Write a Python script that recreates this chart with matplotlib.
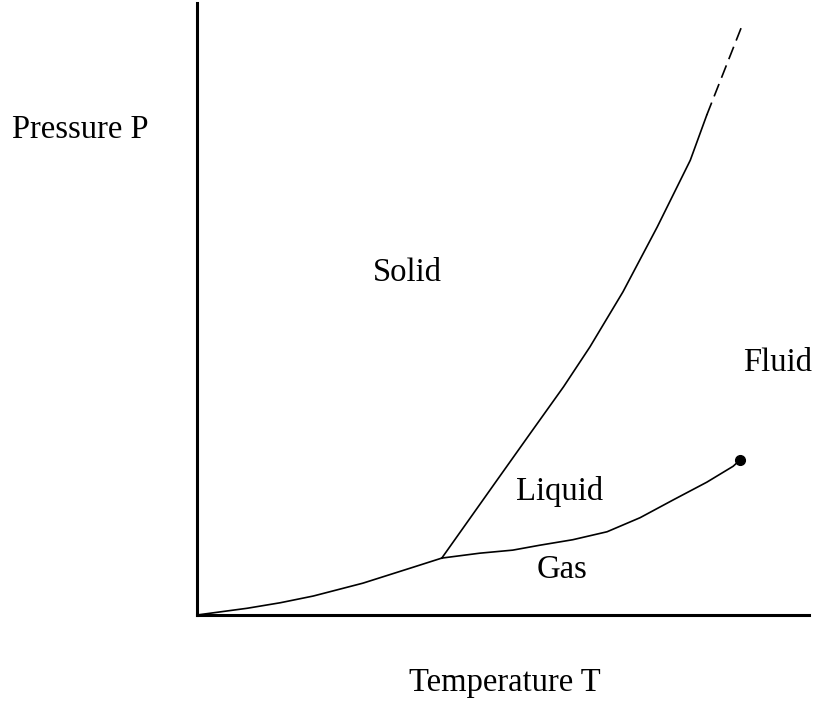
import numpy as np
import matplotlib
matplotlib.use('Agg')
import matplotlib.pyplot as plt

# --- data (arbitrary T / P units, axes run 0..10) ---
sub_T = [0.0, 0.82, 1.36, 1.90, 2.71, 3.53, 4.00]
sub_P = [0.0, 0.11, 0.20, 0.31, 0.52, 0.78, 0.93]

vap_T = [4.00, 4.62, 5.16, 5.60, 6.14, 6.70, 7.24, 7.78, 8.33, 8.76, 8.87]
vap_P = [0.93, 1.01, 1.06, 1.14, 1.23, 1.36, 1.59, 1.88, 2.17, 2.43, 2.53]

melt_T = [4.00, 4.90, 5.44, 5.99, 6.42, 6.96, 7.52, 8.06, 8.33]
melt_P = [0.93, 2.20, 2.96, 3.73, 4.38, 5.28, 6.34, 7.43, 8.17]

melt_ext_T = [8.33, 8.89]
melt_ext_P = [8.17, 9.59]

crit_T, crit_P = 8.87, 2.53

regions = ['Solid', 'Liquid', 'Gas', 'Fluid']
region_T = [3.43, 5.93, 5.96, 9.49]
region_P = [5.60, 2.01, 0.74, 4.12]

plt.rcParams['font.family'] = ['Liberation Serif', 'DejaVu Serif']

fig = plt.figure(figsize=(8.16, 7.02), dpi=100)
ax = fig.add_axes([197 / 816, 87 / 702, 612 / 816, 612 / 702])

line_kw = dict(color='black', lw=1.2, solid_joinstyle='round')
ax.plot(sub_T, sub_P, **line_kw)
ax.plot(vap_T, vap_P, **line_kw)
ax.plot(melt_T, melt_P, **line_kw)
# dashed continuation of the melting line
ax.plot(melt_ext_T, melt_ext_P, color='black', lw=1.2, dashes=(8, 4))
ax.plot([crit_T], [crit_P], 'o', color='black', markersize=7, clip_on=False)

for name, t, p in zip(regions, region_T, region_P):
    ax.text(t, p, name, fontsize=23.5, ha='center', va='center')

ax.set_xlim(0, 10)
ax.set_ylim(0, 10)
ax.spines['top'].set_visible(False)
ax.spines['right'].set_visible(False)
ax.spines['left'].set_linewidth(2.2)
ax.spines['bottom'].set_linewidth(2.2)
ax.set_xticks([])
ax.set_yticks([])

fig.text(80 / 816, 1 - 130 / 702, 'Pressure P', fontsize=23.5, ha='center', va='center')
fig.text(505 / 816, 1 - 683 / 702, 'Temperature T', fontsize=23.5, ha='center', va='center')

fig.savefig('out.png', dpi=100)
